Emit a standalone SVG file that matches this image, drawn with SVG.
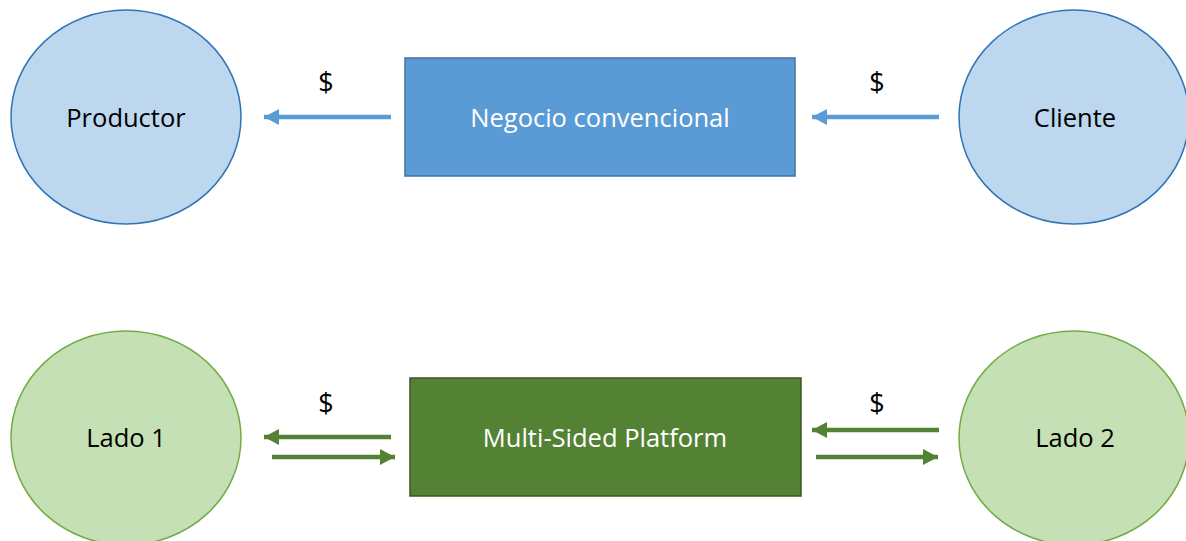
<svg xmlns="http://www.w3.org/2000/svg" width="1186" height="541" viewBox="0 0 1186 541">
<style>
.t{font-family:"Open Sans","Liberation Sans",sans-serif;font-size:25.5px;text-anchor:middle}
.d{font-family:"Open Sans","Liberation Sans",sans-serif;font-size:27px;text-anchor:middle}
.cb{fill:#BDD7EE;stroke:#2E75B6;stroke-width:1.5}
.cg{fill:#C5E0B4;stroke:#70AD47;stroke-width:1.5}
.ab{stroke:#5B9BD5;stroke-width:4.5;fill:none;marker-end:url(#mb)}
.ag{stroke:#548235;stroke-width:4.5;fill:none;marker-end:url(#mg)}
</style>
<defs>
<marker id="mb" markerUnits="userSpaceOnUse" markerWidth="18" markerHeight="18" refX="15" refY="8" orient="auto"><path d="M0,0 L15,8 L0,16 Z" fill="#5B9BD5"/></marker>
<marker id="mg" markerUnits="userSpaceOnUse" markerWidth="18" markerHeight="18" refX="15" refY="8" orient="auto"><path d="M0,0 L15,8 L0,16 Z" fill="#548235"/></marker>
</defs>
<rect width="1186" height="541" fill="#fff"/>
<g id="productor"><ellipse class="cb" cx="126" cy="117" rx="115" ry="107"/><text class="t" x="126" y="127">Productor</text></g>
<g id="negocio"><rect x="405" y="58" width="390" height="118" fill="#5B9BD5" stroke="#41719C" stroke-width="1.5"/><text class="t" x="600" y="127" fill="#fff">Negocio convencional</text></g>
<g id="cliente"><ellipse class="cb" cx="1074" cy="117" rx="115" ry="107"/><text class="t" x="1075" y="127">Cliente</text></g>
<g id="lado1"><ellipse class="cg" cx="126" cy="438" rx="115" ry="107"/><text class="t" x="126" y="447">Lado 1</text></g>
<g id="msp"><rect x="410" y="378" width="391" height="118" fill="#548235" stroke="#385723" stroke-width="1.5"/><text class="t" x="605" y="447" fill="#fff">Multi-Sided Platform</text></g>
<g id="lado2"><ellipse class="cg" cx="1074" cy="438" rx="115" ry="107"/><text class="t" x="1075" y="447">Lado 2</text></g>
<g id="connectors">
<line class="ab" x1="391" y1="117" x2="264" y2="117"/>
<line class="ab" x1="939" y1="117" x2="812" y2="117"/>
<line class="ag" x1="391" y1="437" x2="264" y2="437"/>
<line class="ag" x1="272" y1="457" x2="395" y2="457"/>
<line class="ag" x1="939" y1="430" x2="812" y2="430"/>
<line class="ag" x1="816" y1="457" x2="938" y2="457"/>
<text class="d" x="326" y="92">$</text>
<text class="d" x="877" y="92">$</text>
<text class="d" x="326" y="413">$</text>
<text class="d" x="877" y="413">$</text>
</g>
</svg>
